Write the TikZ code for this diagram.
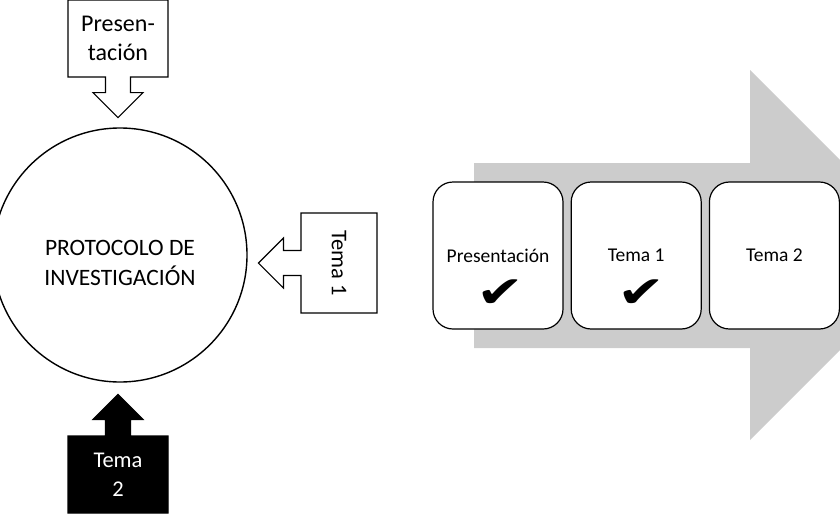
\documentclass[tikz,border=0pt]{standalone}
\usepackage{fontspec}
\setmainfont{Carlito}
\newfontfamily\marcafont{DejaVu Sans}
\usetikzlibrary{shapes.arrows}
\usetikzlibrary{positioning}
\definecolor{flechagris}{RGB}{204,204,204}

\begin{document}
\begin{tikzpicture}
[x=1pt,y=-1pt,%
  every node/.style={draw,line width=1.2pt,inner sep=0pt,align=center},%
  llamada/.style={arrow box,minimum width=100pt,minimum height=77pt,%
    arrow box shaft width=25pt,arrow box head extend=12.5pt,arrow box tip angle=90,%
    font=\fontsize{22.5}{29}\selectfont},%
  etapa/.style={rounded corners=20pt,fill=white,minimum width=130pt,minimum height=147pt,%
    font=\fontsize{19.5}{23}\selectfont},%
  visto/.style={draw=none,font=\marcafont\fontsize{44}{44}\selectfont}]
\clip (0,0) rectangle (840,520);
%% circulo central
\node[circle,minimum size=254pt,line width=1.4pt] (protocolo) at (120,255) {};
\node[draw=none,font=\fontsize{23.5}{30}\selectfont] (protocoloTexto)
  at ([yshift=-8pt]protocolo.center) {PROTOCOLO DE\\INVESTIGACIÓN};
%% llamadas
\node[llamada,font=\fontsize{24}{29}\selectfont,arrow box arrows={south:40pt from border}]
  (presentacion) at (118,38.5) {Presen-\\tación};
\node[llamada,rotate=-90,minimum height=76pt,arrow box arrows={south:42pt from border}]
  (tema1) at (339,263) {Tema 1};
\node[llamada,fill=black,text=white,arrow box arrows={north:41pt from border}]
  (tema2) at (118,474.5) {Tema\\2};
%% flecha gris de fondo
\fill[flechagris] (474,163) -- (750,163) -- (750,70) -- (935,255)
  -- (750,440) -- (750,348) -- (474,348) -- cycle;
%% etapas
\node[etapa] (presBox) at (498,255.5) {Presentación};
\node[etapa,right=7pt of presBox] (tema1Box) {Tema 1};
\node[etapa,right=7pt of tema1Box] (tema2Box) {Tema 2};
\foreach \caja/\dx in {presBox/2, tema1Box/5}
{
  \node[visto] (visto-\caja) at ([xshift=\dx pt,yshift=-38pt]\caja.center)
    {\scalebox{1.3}[1]{✔}};
}
\end{tikzpicture}
\end{document}
